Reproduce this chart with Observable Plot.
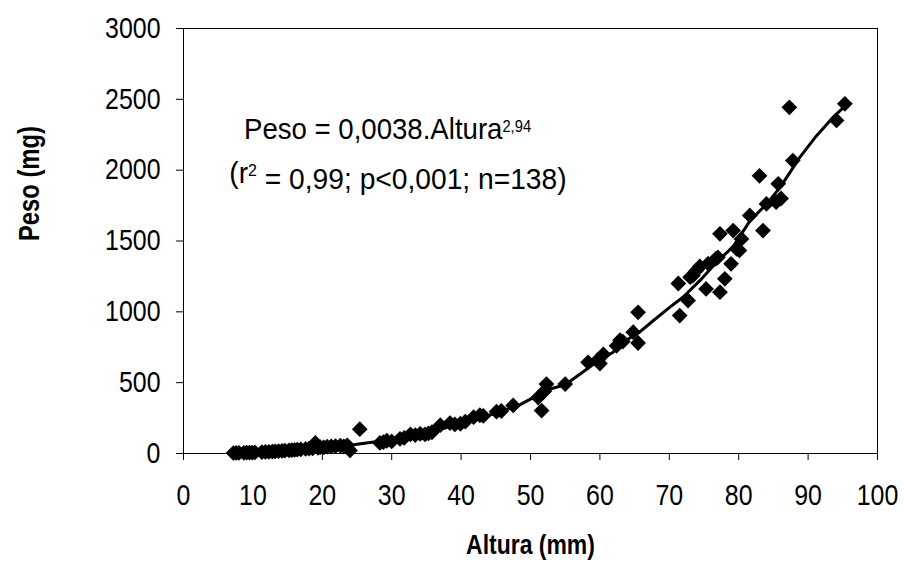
<!DOCTYPE html>
<html>
<head>
<meta charset="utf-8">
<script src="https://cdn.jsdelivr.net/npm/d3@7"></script>
<script src="https://cdn.jsdelivr.net/npm/@observablehq/plot@0.6"></script>
<style>
  html, body { margin: 0; padding: 0; background: #fff; }
  #chart { width: 904px; height: 571px; }
</style>
</head>
<body>
<div id="chart"></div>
<script>
// Observed points: Altura (mm) and Peso (mg)
const altura = [
  7.2, 7.6, 8.0, 8.7, 9.1, 9.5, 9.9, 10.3, 11.3, 11.8, 12.3, 12.8, 13.2, 13.7, 14.2, 14.6,
  15.2, 15.6, 16.0, 16.4, 16.9, 17.6, 18.1, 18.6, 19.0, 19.4, 19.7, 20.2, 20.7, 21.3, 21.9,
  22.6, 23.1, 23.6, 24.0, 25.4,
  28.3, 28.8, 29.3, 30.0, 31.2, 31.8, 32.7, 33.4, 34.1, 34.8, 35.3, 35.8, 37.0, 38.4, 39.1,
  39.9, 40.6, 41.8, 42.7, 43.2, 45.1, 45.8, 47.5, 51.1, 51.6, 52.0, 52.3, 55.0, 58.3, 59.7,
  60.0, 60.5, 62.4, 62.9, 63.3, 64.8, 65.5, 65.5, 71.3, 71.5, 72.7, 73.0, 73.4, 73.9, 74.4,
  75.3, 75.6, 76.7, 77.0, 77.3, 77.3, 78.0, 78.9, 79.2, 79.7, 80.1, 80.4, 81.6, 83.0, 83.5,
  84.0, 85.4, 85.7, 86.1, 87.3, 87.8, 94.1, 95.3
];
const peso = [
  3, 4, 4, 5, 6, 6, 7, 8, 10, 11, 12, 14, 15, 16, 18, 20,
  22, 24, 25, 27, 29, 32, 34, 36, 75, 40, 45, 44, 48, 50, 52,
  55, 50, 58, 22, 172,
  75, 80, 90, 85, 104, 110, 135, 130, 139, 135, 142, 150, 200, 215, 205,
  210, 225, 256, 270, 265, 295, 300, 339, 395, 303, 440, 490, 490, 644, 660,
  635, 700, 760, 800, 790, 856, 997, 780, 1200, 974, 1080, 1245, 1256, 1292, 1320,
  1162, 1340, 1374, 1385, 1139, 1551, 1233, 1339, 1574, 1445, 1433, 1515, 1680, 1960, 1574,
  1762, 1774, 1904, 1800, 2444, 2068, 2351, 2468
];

// Fitted line as drawn in the reference
const lineAltura = [7, 10, 15, 20, 23, 25, 28, 31, 35, 38, 42, 45, 48.5, 50.6, 52.8, 55, 57.1,
  59.5, 61.9, 63.5, 65.8, 67.5, 70, 72, 74.4, 77, 79.2, 81.6, 84, 86, 88.8, 91, 93.6, 95.5];
const linePeso = [3, 8, 20, 35, 48, 65, 85, 105, 140, 185, 240, 285, 345, 400, 455, 485, 560,
  645, 715, 790, 860, 930, 1030, 1105, 1220, 1360, 1460, 1640, 1760, 1880, 2090, 2230, 2374, 2460];

const xTicks = [0, 10, 20, 30, 40, 50, 60, 70, 80, 90, 100];
const yTicks = [0, 500, 1000, 1500, 2000, 2500, 3000];

const xTitle = "Altura (mm)";
const yTitle = "Peso (mg)";
const eqMain = "Peso = 0,0038.Altura";
const eqExp = "2,94";
const statsText = "(r2 = 0,99; p<0,001; n=138)";

const points = altura.map((a, i) => ({altura: a, peso: peso[i]}));
const fit = lineAltura.map((a, i) => ({altura: a, peso: linePeso[i]}));

const plot = Plot.plot({
  width: 904,
  height: 571,
  marginLeft: 183,
  marginRight: 27,
  marginTop: 28,
  marginBottom: 118,
  style: {fontFamily: "'Liberation Sans', Arial, sans-serif", fontSize: "28px", color: "#000", background: "#fff", overflow: "visible"},
  x: {domain: [0, 100]},
  y: {domain: [0, 3000]},
  marks: [
    Plot.frame({stroke: "#000", strokeWidth: 1}),
    Plot.axisY({ticks: yTicks, tickSize: 7, tickPadding: 16, fontSize: 29, label: null, tickFormat: d => String(d)}),
    Plot.axisX({ticks: xTicks, tickSize: 7, tickPadding: 24, fontSize: 29, label: null, tickFormat: d => String(d)}),
    Plot.line(fit, {x: "altura", y: "peso", stroke: "#000", strokeWidth: 3}),
    Plot.dot(points, {x: "altura", y: "peso", symbol: "diamond2", r: 7.1, fill: "#000", stroke: "none"}),
    Plot.text([eqMain + "^" + eqExp], {x: () => 29.4, y: () => 2285, text: d => d, fontSize: 30, textAnchor: "middle"}),
    Plot.text([statsText], {x: () => 30.9, y: () => 1975, text: d => d, fontSize: 30, textAnchor: "middle"}),
    Plot.text([yTitle], {frameAnchor: "left", dx: -154, rotate: -90, text: d => d, fontSize: 29, fontWeight: "bold"}),
    Plot.text([xTitle], {frameAnchor: "bottom", dy: 100, text: d => d, fontSize: 28, fontWeight: "bold"})
  ]
});

document.getElementById("chart").appendChild(plot);

// Add superscripts
d3.select(plot).selectAll("text").each(function() {
  const t = d3.select(this);
  const s = this.textContent;
  if (s === eqMain + "^" + eqExp) {
    t.text(null);
    t.append("tspan").text(eqMain);
    t.append("tspan").attr("dy", "-0.45em").attr("font-size", 16).text(eqExp);
    t.attr("data-sx", 0.92);
  } else if (s === statsText) {
    t.text(null);
    t.append("tspan").text("(r");
    t.append("tspan").attr("dy", "-0.45em").attr("font-size", 17).text("2");
    t.append("tspan").attr("dy", "0.45em").text(" = 0,99; p<0,001; n=138)");
    t.attr("data-sx", 0.94);
  } else if (s === xTitle || s === yTitle) {
    t.attr("data-sx", 0.82);
  } else {
    t.attr("data-sx", 0.86);
  }
});

// Narrow, tall lettering as in the reference (horizontal compression about each anchor)
d3.select(plot).selectAll("text").each(function() {
  const t = d3.select(this);
  const sx = t.attr("data-sx");
  if (!sx) return;
  const tr = t.attr("transform");
  if (tr) {
    t.attr("transform", tr + ` scale(${sx},1)`);
  } else {
    const x = +(t.attr("x") || 0), y = +(t.attr("y") || 0);
    t.attr("x", null).attr("y", null);
    t.attr("transform", `translate(${x},${y}) scale(${sx},1)`);
  }
});
</script>
</body>
</html>
